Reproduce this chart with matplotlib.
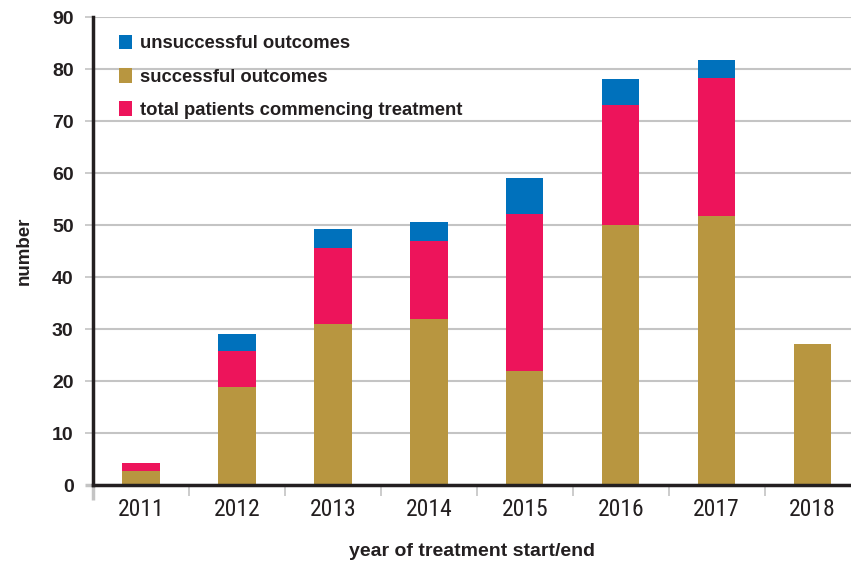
import matplotlib
matplotlib.use("Agg")
import matplotlib.pyplot as plt
import numpy as np

years = ["2011", "2012", "2013", "2014", "2015", "2016", "2017", "2018"]
successful = [2.6, 18.8, 31.0, 31.9, 22.0, 50.0, 51.8, 27.1]
total_segment = [1.7, 7.0, 14.6, 15.0, 30.1, 23.0, 26.5, 0.0]
unsuccessful = [0.0, 3.2, 3.6, 3.7, 6.9, 5.0, 3.4, 0.0]
yticks = [0, 10, 20, 30, 40, 50, 60, 70, 80, 90]

c_blue = "#0071BC"
c_gold = "#B89640"
c_pink = "#ED145B"
c_dark = "#231F20"
c_grid = "#C4C4C4"

plt.rcParams["font.family"] = ["Liberation Sans", "DejaVu Sans"]

fig = plt.figure(figsize=(8.51, 5.65), dpi=100)
ax = fig.add_axes([93/851, 80/565, 758/851, 468/565])

x = np.arange(len(years))
w = 0.39
b_gold = ax.bar(x, successful, w, color=c_gold, zorder=3, label="successful outcomes")
b_pink = ax.bar(x, total_segment, w, bottom=successful, color=c_pink, zorder=3,
                label="total patients commencing treatment")
bottom2 = np.array(successful) + np.array(total_segment)
b_blue = ax.bar(x, unsuccessful, w, bottom=bottom2, color=c_blue, zorder=3,
                label="unsuccessful outcomes")

ax.set_ylim(0, 90)
ax.set_xlim(-0.5, 7.4)
ax.set_yticks(yticks)
ax.set_yticklabels([str(v) for v in yticks], fontsize=14, fontweight="bold", color=c_dark)
ax.yaxis.grid(True, color=c_grid, linewidth=1.5, zorder=0)
ax.set_axisbelow(True)
ax.tick_params(axis="y", length=6, width=1.2, color=c_grid, pad=8)
ax.yaxis.get_major_ticks()[0].tick1line.set_color(c_dark)
ax.yaxis.get_major_ticks()[0].tick1line.set_markeredgewidth(2.5)

ax.set_xticks(x)
ax.set_xticklabels(years, fontsize=17, color=c_dark,
                   family=["Liberation Sans Narrow", "Roboto Condensed", "Liberation Sans", "DejaVu Sans"])
ax.tick_params(axis="x", which="major", length=0, pad=9)
ax.set_xticks(np.arange(-0.5, 7.0, 1.0), minor=True)
ax.tick_params(axis="x", which="minor", length=8, width=1.2, color=c_grid)
ax.xaxis.get_minor_ticks()[0].tick1line.set_color(c_dark)
ax.xaxis.get_minor_ticks()[0].tick1line.set_markeredgewidth(2.5)
ax.xaxis.get_minor_ticks()[0].tick1line.set_markersize(11)

for s in ["top", "right"]:
    ax.spines[s].set_visible(False)
for s in ["left", "bottom"]:
    ax.spines[s].set_color(c_dark)
    ax.spines[s].set_linewidth(2.5)
    ax.spines[s].set_zorder(4)

ax.set_ylabel("number", fontsize=13.5, fontweight="bold", color=c_dark, labelpad=14)
ax.set_xlabel("year of treatment start/end", fontsize=14, fontweight="bold",
              color=c_dark, labelpad=16)

leg = ax.legend(handles=[b_blue, b_gold, b_pink], loc="upper left",
                bbox_to_anchor=(0.012, 0.998), frameon=False,
                prop={"size": 13.3, "weight": "bold"},
                handlelength=0.72, handleheight=0.85, handletextpad=0.45,
                labelspacing=0.85)
for t in leg.get_texts():
    t.set_color(c_dark)

fig.savefig("out.png", dpi=100, facecolor="white")
